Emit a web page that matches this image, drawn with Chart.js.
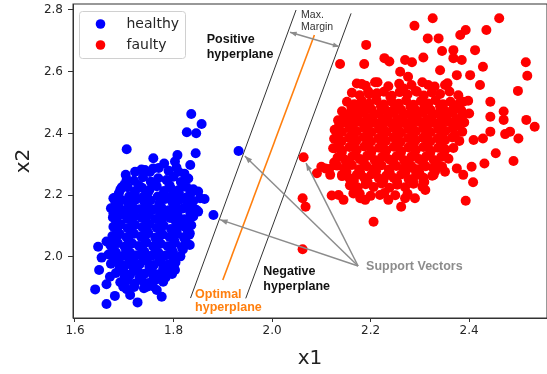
<!DOCTYPE html>
<html>
<head>
<meta charset="utf-8">
<script src="https://cdn.jsdelivr.net/npm/chart.js@4"></script>
<style>
  html, body { margin: 0; padding: 0; background: #fff; }
  #chart { display: block; }
</style>
</head>
<body>
<canvas id="chart" width="547" height="374"></canvas>
<script>
'use strict';

// ── DATA ─────────────────────────────────────────────────────

const X_TICKS = [1.6, 1.8, 2.0, 2.2, 2.4];
const Y_TICKS = [2.0, 2.2, 2.4, 2.6, 2.8];

// healthy samples: loose points first, then the dense core row by row
const HEALTHY = [
  [1.836,2.463],[1.857,2.431],[1.827,2.404],[1.846,2.401],[1.705,2.349],[1.845,2.336],
  [1.759,2.320],[1.808,2.330],[1.834,2.298],[1.781,2.303],[1.803,2.309],[1.703,2.266],
  [1.722,2.276],[1.742,2.282],[1.759,2.287],[1.810,2.276],[1.695,2.226],[1.678,2.190],
  [1.850,2.212],[1.863,2.188],[1.881,2.136],[1.854,2.190],[1.850,2.147],[1.840,2.131],
  [1.678,2.141],[1.647,2.033],[1.654,1.998],[1.649,1.958],[1.641,1.895],[1.664,1.848],
  [1.681,1.874],[1.664,1.912],[1.671,1.936],[1.712,1.877],[1.727,1.853],[1.776,1.871],
  [1.766,1.893],[1.746,1.904],[1.803,1.958],[1.833,2.039],[1.833,2.077],[1.664,2.050],
  [1.698,1.904],[1.932,2.343],
  [1.735,2.283],[1.752,2.275],[1.770,2.288],[1.790,2.279],[1.806,2.290],[1.822,2.270],
  [1.705,2.252],[1.720,2.247],[1.738,2.258],[1.754,2.244],[1.769,2.255],[1.786,2.249],[1.800,2.260],[1.815,2.243],[1.830,2.254],
  [1.692,2.218],[1.707,2.226],[1.722,2.213],[1.736,2.224],[1.751,2.217],[1.766,2.229],[1.781,2.214],[1.795,2.222],[1.810,2.216],[1.826,2.227],[1.840,2.219],
  [1.681,2.192],[1.695,2.184],[1.710,2.197],[1.724,2.186],[1.739,2.195],[1.753,2.183],[1.768,2.196],[1.783,2.188],[1.797,2.198],[1.812,2.185],[1.826,2.193],[1.840,2.181],
  [1.673,2.158],[1.688,2.165],[1.702,2.152],[1.717,2.163],[1.731,2.155],[1.746,2.167],[1.760,2.154],[1.775,2.162],[1.790,2.151],[1.804,2.166],[1.819,2.157],[1.833,2.164],[1.846,2.153],
  [1.677,2.128],[1.692,2.136],[1.706,2.124],[1.721,2.133],[1.735,2.127],[1.750,2.138],[1.764,2.123],[1.779,2.134],[1.793,2.126],[1.808,2.137],[1.822,2.122],[1.836,2.131],
  [1.678,2.098],[1.693,2.105],[1.707,2.093],[1.722,2.104],[1.737,2.096],[1.751,2.107],[1.766,2.094],[1.780,2.102],[1.795,2.091],[1.809,2.106],[1.823,2.097],[1.836,2.103],
  [1.676,2.068],[1.691,2.074],[1.705,2.063],[1.720,2.075],[1.734,2.066],[1.749,2.077],[1.763,2.062],[1.778,2.073],[1.792,2.065],[1.807,2.076],[1.821,2.064],[1.832,2.072],
  [1.672,2.038],[1.687,2.045],[1.701,2.033],[1.716,2.044],[1.730,2.036],[1.745,2.047],[1.759,2.034],[1.774,2.043],[1.788,2.035],[1.803,2.046],[1.817,2.032],[1.828,2.041],
  [1.668,2.008],[1.683,2.015],[1.697,2.003],[1.712,2.014],[1.726,2.006],[1.741,2.017],[1.755,2.004],[1.770,2.013],[1.784,2.005],[1.799,2.016],[1.814,2.002],
  [1.673,1.978],[1.688,1.985],[1.702,1.973],[1.717,1.984],[1.731,1.976],[1.746,1.987],[1.760,1.974],[1.775,1.983],[1.789,1.975],[1.804,1.982],
  [1.683,1.948],[1.698,1.955],[1.712,1.943],[1.727,1.954],[1.741,1.946],[1.756,1.957],[1.770,1.944],[1.785,1.953],[1.797,1.945],
  [1.692,1.918],[1.707,1.925],[1.721,1.913],[1.736,1.924],[1.750,1.916],[1.765,1.927],[1.779,1.920],
  [1.705,1.896],[1.720,1.903],[1.740,1.899],[1.758,1.905],
  [1.701,2.236],[1.729,2.233],[1.761,2.238],[1.792,2.232],[1.818,2.237],
  [1.689,2.206],[1.721,2.203],[1.748,2.208],[1.779,2.202],[1.811,2.207],[1.834,2.204],
  [1.682,2.176],[1.709,2.173],[1.741,2.178],[1.771,2.172],[1.798,2.177],[1.829,2.174],
  [1.686,2.146],[1.714,2.143],[1.746,2.148],[1.774,2.142],[1.806,2.147],[1.834,2.144],
  [1.684,2.116],[1.716,2.113],[1.744,2.118],[1.776,2.112],[1.804,2.117],[1.829,2.114],
  [1.686,2.086],[1.714,2.083],[1.746,2.088],[1.774,2.082],[1.806,2.087],[1.829,2.084],
  [1.681,2.056],[1.709,2.053],[1.741,2.058],[1.769,2.052],[1.801,2.057],[1.824,2.054],
  [1.676,2.026],[1.704,2.023],[1.736,2.028],[1.764,2.022],[1.796,2.027],[1.819,2.024],
  [1.681,1.996],[1.711,1.993],[1.739,1.998],[1.771,1.992],[1.799,1.997],
  [1.691,1.966],[1.719,1.963],[1.751,1.968],[1.779,1.962],[1.801,1.967],
  [1.701,1.936],[1.731,1.933],[1.759,1.938],[1.784,1.934]
];

// faulty samples: loose points first, then the dense core row by row
const FAULTY = [
  [2.326,2.773],[2.461,2.773],[2.289,2.749],[2.393,2.735],[2.382,2.719],[2.435,2.735],
  [2.316,2.708],[2.338,2.708],[2.191,2.687],[2.412,2.670],[2.345,2.667],[2.368,2.670],
  [2.138,2.625],[2.187,2.625],[2.228,2.644],[2.238,2.633],[2.270,2.638],[2.284,2.631],
  [2.307,2.646],[2.368,2.644],[2.385,2.638],[2.428,2.616],[2.515,2.631],[2.518,2.587],
  [2.499,2.538],[2.182,2.560],[2.209,2.566],[2.260,2.600],[2.276,2.584],[2.341,2.605],
  [2.375,2.589],[2.402,2.589],[2.422,2.557],[2.443,2.503],[2.317,2.557],[2.351,2.557],
  [2.197,2.527],[2.162,2.487],[2.182,2.498],[2.213,2.530],[2.240,2.519],[2.267,2.546],
  [2.294,2.535],[2.388,2.503],[2.470,2.471],
  [2.064,2.323],[2.062,2.190],[2.068,2.163],[2.062,2.025],[2.206,2.114],[2.393,2.182],
  [2.408,2.242],[2.490,2.311],[2.500,2.384],[2.516,2.444],[2.533,2.422],[2.473,2.398],
  [2.483,2.406],[2.470,2.444],[2.443,2.454],[2.454,2.336],[2.431,2.303],[2.428,2.384],
  [2.409,2.379],[2.443,2.406],[2.405,2.292],[2.388,2.266],[2.375,2.287],[2.351,2.276],
  [2.328,2.266],[2.311,2.217],[2.290,2.190],[2.270,2.190],[2.262,2.163],[2.236,2.185],
  [2.219,2.201],[2.189,2.185],[2.179,2.190],[2.145,2.185],[2.121,2.199],[2.135,2.201],
  [2.091,2.271],[2.108,2.287],[2.118,2.266],[2.142,2.266],[2.124,2.352],[2.131,2.411],
  [2.148,2.454],[2.162,2.233],[2.165,2.206],[2.307,2.244],[2.287,2.287],
  [2.172,2.562],[2.190,2.555],[2.214,2.566],[2.236,2.553],[2.258,2.561],[2.283,2.557],[2.305,2.566],[2.330,2.552],[2.356,2.563],
  [2.162,2.532],[2.178,2.524],[2.195,2.537],[2.211,2.527],[2.227,2.535],[2.243,2.522],[2.259,2.534],[2.275,2.526],[2.292,2.538],[2.308,2.523],[2.324,2.533],[2.341,2.528],[2.360,2.536],[2.378,2.524],
  [2.152,2.503],[2.167,2.495],[2.182,2.506],[2.197,2.497],[2.212,2.508],[2.227,2.494],[2.242,2.504],[2.257,2.496],[2.272,2.507],[2.287,2.493],[2.302,2.505],[2.317,2.497],[2.332,2.508],[2.347,2.495],[2.362,2.503],[2.380,2.498],[2.398,2.506],
  [2.142,2.472],[2.157,2.465],[2.172,2.476],[2.187,2.467],[2.202,2.478],[2.217,2.464],[2.232,2.474],[2.247,2.466],[2.262,2.477],[2.277,2.463],[2.292,2.475],[2.307,2.468],[2.322,2.476],[2.337,2.464],[2.352,2.473],[2.367,2.467],[2.384,2.475],[2.400,2.465],
  [2.134,2.443],[2.149,2.435],[2.164,2.446],[2.179,2.437],[2.194,2.448],[2.209,2.434],[2.224,2.444],[2.239,2.436],[2.254,2.447],[2.269,2.433],[2.284,2.445],[2.299,2.437],[2.314,2.446],[2.329,2.434],[2.344,2.444],[2.359,2.438],[2.374,2.447],[2.390,2.436],
  [2.127,2.412],[2.142,2.405],[2.157,2.416],[2.172,2.407],[2.187,2.418],[2.202,2.404],[2.217,2.414],[2.232,2.406],[2.247,2.417],[2.262,2.403],[2.277,2.415],[2.292,2.407],[2.307,2.416],[2.322,2.404],[2.337,2.414],[2.352,2.408],[2.367,2.417],[2.386,2.406],
  [2.126,2.383],[2.141,2.375],[2.156,2.386],[2.171,2.377],[2.186,2.388],[2.201,2.374],[2.216,2.384],[2.231,2.376],[2.246,2.387],[2.261,2.373],[2.276,2.385],[2.291,2.377],[2.306,2.386],[2.321,2.374],[2.336,2.384],[2.351,2.378],[2.366,2.387],[2.380,2.376],
  [2.127,2.352],[2.142,2.345],[2.157,2.356],[2.172,2.347],[2.187,2.358],[2.202,2.344],[2.217,2.354],[2.232,2.346],[2.247,2.357],[2.262,2.343],[2.277,2.355],[2.292,2.347],[2.307,2.356],[2.322,2.344],[2.337,2.354],[2.352,2.348],[2.368,2.353],
  [2.133,2.322],[2.148,2.315],[2.163,2.326],[2.178,2.317],[2.193,2.328],[2.208,2.314],[2.223,2.324],[2.238,2.316],[2.253,2.327],[2.268,2.313],[2.283,2.325],[2.298,2.317],[2.313,2.326],[2.328,2.314],[2.343,2.324],[2.358,2.318],
  [2.100,2.292],[2.116,2.285],[2.132,2.296],[2.147,2.287],[2.162,2.298],[2.177,2.284],[2.192,2.294],[2.207,2.286],[2.222,2.297],[2.237,2.283],[2.252,2.295],[2.267,2.287],[2.282,2.296],[2.297,2.284],[2.312,2.294],[2.327,2.288],[2.345,2.293],
  [2.142,2.262],[2.157,2.255],[2.172,2.266],[2.187,2.257],[2.202,2.268],[2.217,2.254],[2.232,2.264],[2.247,2.256],[2.262,2.267],[2.277,2.253],[2.292,2.265],[2.307,2.257],[2.325,2.263],
  [2.158,2.232],[2.174,2.225],[2.190,2.236],[2.206,2.227],[2.222,2.238],[2.238,2.224],[2.254,2.234],[2.270,2.226],[2.287,2.237],[2.305,2.228],
  [2.178,2.205],[2.200,2.198],[2.228,2.207],[2.250,2.200],[2.275,2.205],
  [2.161,2.486],[2.189,2.483],[2.221,2.488],[2.249,2.482],[2.281,2.487],[2.309,2.483],[2.341,2.488],[2.369,2.484],
  [2.146,2.456],[2.174,2.453],[2.206,2.458],[2.234,2.452],[2.266,2.457],[2.294,2.453],[2.326,2.458],[2.354,2.452],[2.386,2.457],
  [2.136,2.426],[2.164,2.423],[2.196,2.428],[2.224,2.422],[2.256,2.427],[2.284,2.423],[2.316,2.428],[2.344,2.422],[2.376,2.427],
  [2.134,2.396],[2.166,2.393],[2.194,2.398],[2.226,2.392],[2.254,2.397],[2.286,2.393],[2.314,2.398],[2.346,2.392],[2.371,2.397],
  [2.136,2.366],[2.164,2.363],[2.196,2.368],[2.224,2.362],[2.256,2.367],[2.284,2.363],[2.316,2.368],[2.344,2.362],
  [2.141,2.336],[2.169,2.333],[2.201,2.338],[2.229,2.332],[2.261,2.337],[2.289,2.333],[2.321,2.338],[2.349,2.332],
  [2.126,2.306],[2.154,2.303],[2.186,2.308],[2.214,2.302],[2.246,2.307],[2.274,2.303],[2.306,2.308],[2.334,2.302],
  [2.151,2.276],[2.179,2.273],[2.211,2.278],[2.239,2.272],[2.271,2.277],[2.299,2.273],[2.331,2.278],
  [2.166,2.246],[2.194,2.243],[2.226,2.248],[2.254,2.242],[2.286,2.247],[2.309,2.243]
];

// hyperplanes, end points in data units
const POSITIVE_PLANE = [[1.8345, 1.867], [2.0487, 2.800]];
const NEGATIVE_PLANE = [[1.9466, 1.866], [2.1604, 2.789]];
const OPTIMAL_PLANE  = [[1.9000, 1.9255], [2.0859, 2.719]];

// annotation arrows
const SV_ORIGIN    = [2.1746, 1.9709];
const SV_TARGETS   = [[1.9447, 2.3271], [1.8944, 2.1209], [2.0690, 2.3039]];
const MARGIN_ARROW = [[2.0365, 2.7278], [2.1367, 2.6811]];

const toXY = arr => arr.map(([x, y]) => ({ x, y }));

// ── ANNOTATIONS ──────────────────────────────────────────────

const NOTES = [
  { lines: ['Positive', 'hyperplane'], at: [1.8674, 2.694], color: '#111', weight: 'bold', size: 12.5, lh: 15.5 },
  { lines: ['Negative', 'hyperplane'], at: [1.9823, 1.9417], color: '#111', weight: 'bold', size: 12.5, lh: 15.5 },
  { lines: ['Optimal', 'hyperplane'],  at: [1.8437, 1.868],  color: '#ff7f0e', weight: 'bold', size: 12.5, lh: 13 },
  { lines: ['Support Vectors'],        at: [2.1909, 1.9579], color: '#8c8c8c', weight: 'bold', size: 12.5, lh: 15 },
  { lines: ['Max.', 'Margin'],         at: [2.0589, 2.775],  color: '#333', weight: 'normal', size: 10.5, lh: 12.5 }
];

// small filled wedge pointing at (x1, y1)
function arrowHead(ctx, x0, y0, x1, y1, len) {
  const a = Math.atan2(y1 - y0, x1 - x0);
  ctx.beginPath();
  ctx.moveTo(x1, y1);
  ctx.lineTo(x1 - len * Math.cos(a - 0.35), y1 - len * Math.sin(a - 0.35));
  ctx.lineTo(x1 - len * Math.cos(a + 0.35), y1 - len * Math.sin(a + 0.35));
  ctx.closePath();
  ctx.fill();
}

const annotationPlugin = {
  id: 'svmNotes',
  afterDatasetsDraw(chart) {
    const { ctx, chartArea: ca, scales: { x, y } } = chart;
    const px = v => x.getPixelForValue(v);
    const py = v => y.getPixelForValue(v);
    ctx.save();

    // support vector pointers
    ctx.strokeStyle = '#8c8c8c';
    ctx.fillStyle = '#8c8c8c';
    ctx.lineWidth = 1.5;
    const ox = px(SV_ORIGIN[0]), oy = py(SV_ORIGIN[1]);
    SV_TARGETS.forEach(([tx, ty]) => {
      const ex = px(tx), ey = py(ty);
      ctx.beginPath();
      ctx.moveTo(ox, oy);
      ctx.lineTo(ex, ey);
      ctx.stroke();
      arrowHead(ctx, ox, oy, ex, ey, 8);
    });

    // margin double arrow
    const [m0, m1] = MARGIN_ARROW;
    const ax = px(m0[0]), ay = py(m0[1]), bx = px(m1[0]), by = py(m1[1]);
    ctx.beginPath();
    ctx.moveTo(ax, ay);
    ctx.lineTo(bx, by);
    ctx.stroke();
    arrowHead(ctx, ax, ay, bx, by, 7);
    arrowHead(ctx, bx, by, ax, ay, 7);

    // text notes
    ctx.textAlign = 'left';
    ctx.textBaseline = 'alphabetic';
    NOTES.forEach(n => {
      ctx.fillStyle = n.color;
      ctx.font = `${n.weight} ${n.size}px "Liberation Sans", Arial, sans-serif`;
      n.lines.forEach((t, i) => ctx.fillText(t, px(n.at[0]), py(n.at[1]) + i * n.lh));
    });

    // legend box
    const lx = ca.left + 6.5, ly = ca.top + 7.5;
    ctx.beginPath();
    ctx.roundRect(lx, ly, 106, 47, 3);
    ctx.fillStyle = 'rgba(255,255,255,0.85)';
    ctx.fill();
    ctx.strokeStyle = '#d0d0d0';
    ctx.lineWidth = 1;
    ctx.stroke();
    ctx.font = '14px "DejaVu Sans", sans-serif';
    ctx.textBaseline = 'middle';
    chart.data.datasets.slice(0, 2).forEach((ds, i) => {
      const cy = ly + 12.5 + i * 21;
      ctx.beginPath();
      ctx.arc(lx + 21, cy, 4.8, 0, Math.PI * 2);
      ctx.fillStyle = ds.backgroundColor;
      ctx.fill();
      ctx.fillStyle = '#262626';
      ctx.fillText(ds.label, lx + 47, cy);
    });

    // full frame
    ctx.strokeStyle = '#333';
    ctx.lineWidth = 1;
    ctx.strokeRect(ca.left, ca.top, ca.right - ca.left, ca.bottom - ca.top);
    ctx.restore();
  }
};

// ── CHART ────────────────────────────────────────────────────

const TICK_FONT = { family: 'DejaVu Sans', size: 12 };

function planeDataset(pts, color, width) {
  return {
    type: 'line',
    data: toXY(pts),
    borderColor: color,
    borderWidth: width,
    pointRadius: 0,
    fill: false,
    showLine: true
  };
}

new Chart(document.getElementById('chart'), {
  type: 'scatter',
  data: {
    datasets: [
      { label: 'healthy', data: toXY(HEALTHY), backgroundColor: '#0000ff', pointRadius: 5, pointHoverRadius: 5, borderWidth: 0 },
      { label: 'faulty',  data: toXY(FAULTY),  backgroundColor: '#ff0000', pointRadius: 5, pointHoverRadius: 5, borderWidth: 0 },
      planeDataset(POSITIVE_PLANE, '#333', 1),
      planeDataset(NEGATIVE_PLANE, '#333', 1),
      planeDataset(OPTIMAL_PLANE, '#ff7f0e', 1.6)
    ]
  },
  options: {
    responsive: false,
    animation: false,
    devicePixelRatio: 1,
    layout: { autoPadding: false, padding: { top: 4, right: 0, left: 0, bottom: 0 } },
    plugins: { legend: { display: false }, tooltip: { enabled: false } },
    scales: {
      x: {
        type: 'linear',
        min: 1.596, max: 2.558,
        afterBuildTicks: s => { s.ticks = X_TICKS.map(v => ({ value: v })); },
        afterFit: s => { s.height = 56; s.paddingLeft = 0; s.paddingRight = 0; },
        grid: { drawOnChartArea: false, drawTicks: true, tickLength: 4, color: '#333' },
        border: { display: true, color: '#333' },
        ticks: { font: TICK_FONT, color: '#262626', padding: 2, maxRotation: 0, callback: v => v.toFixed(1) },
        title: { display: true, text: 'x1', color: '#222', font: { family: 'DejaVu Sans', size: 20 }, padding: { top: 0, bottom: 3 } }
      },
      y: {
        type: 'linear',
        min: 1.8024, max: 2.8194,
        afterBuildTicks: s => { s.ticks = Y_TICKS.map(v => ({ value: v })); },
        afterFit: s => { s.width = 73; s.paddingTop = 0; s.paddingBottom = 0; },
        grid: { drawOnChartArea: false, drawTicks: true, tickLength: 5, color: '#333' },
        border: { display: true, color: '#333' },
        ticks: { font: TICK_FONT, color: '#262626', padding: 5, callback: v => v.toFixed(1) },
        title: { display: true, text: 'x2', color: '#222', font: { family: 'DejaVu Sans', size: 20 }, padding: { top: 12, bottom: 0 } }
      }
    }
  },
  plugins: [annotationPlugin]
});
</script>
</body>
</html>
